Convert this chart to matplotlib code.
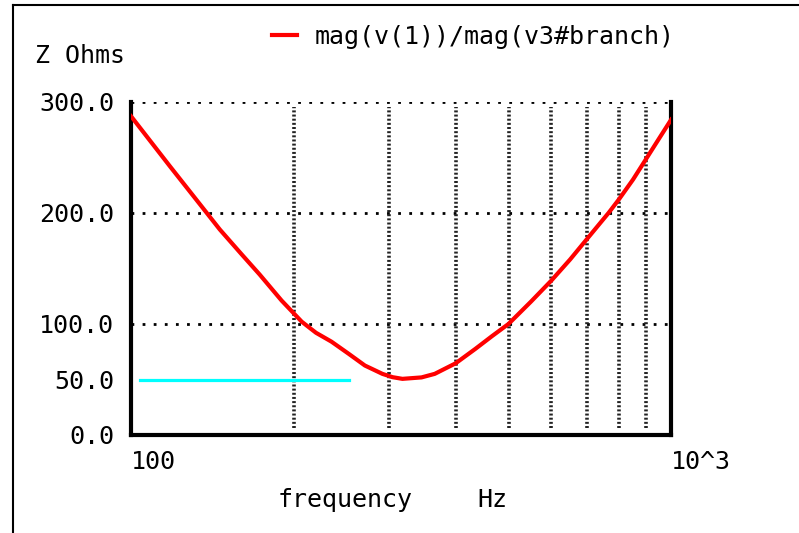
import matplotlib
matplotlib.use('Agg')
import matplotlib.pyplot as plt
from matplotlib.lines import Line2D

# impedance curve
freq = [100, 118, 135, 146, 160, 173, 190, 207, 220, 235, 253, 271, 292, 305,
        318, 345, 365, 399, 434, 466, 500, 550, 600, 650, 700, 766, 800, 850,
        900, 950, 1000]
z_ohms = [287, 242, 206, 185, 163, 144.5, 121, 102, 92, 84, 73, 62.5, 55, 52,
          50.5, 51.8, 55, 64.5, 77.5, 89, 100, 120, 139, 158, 177, 200, 212,
          230, 249, 267, 284]

# cyan reference segment
ref_freq = [104, 253]
ref_z = [49.5, 49.5]

yticks = [0, 50, 100, 200, 300]
ytick_labels = ['0.0', '50.0', '100.0', '200.0', '300.0']
xticks = [100, 1000]
xtick_labels = ['100', '10^3']
hgrid = [100, 200, 300]
vgrid = [200, 300, 400, 500, 600, 700, 800, 900]

plt.rcParams['font.family'] = ['DejaVu Sans Mono']
fs = 18

fig = plt.figure(figsize=(7.99, 5.33), dpi=100)
ax = fig.add_axes([0.164, 0.184, 0.676, 0.625])

for v in hgrid:
	ax.axhline(v, color='black', lw=2, ls=(0, (1, 3)), zorder=1)
for f in vgrid:
	ax.plot([f, f], [6, 295], color='#222222', lw=2.6, ls=(0, (0.55, 0.6)), zorder=1)

ax.plot(ref_freq, ref_z, color='#00ffff', lw=2.3, zorder=2)
ax.plot(freq, z_ohms, color='#ff0000', lw=3, zorder=3, solid_joinstyle='round')

ax.set_xscale('log')
ax.set_xlim(100, 1000)
ax.set_ylim(0, 300)
ax.minorticks_off()
ax.set_xticks(xticks)
ax.set_xticklabels(xtick_labels, fontsize=fs, ha='left')
ax.set_yticks(yticks)
ax.set_yticklabels(ytick_labels, fontsize=fs)
ax.tick_params(length=0, pad=12)
ax.tick_params(axis='x', pad=11)

for s in ['left', 'bottom', 'right']:
	ax.spines[s].set_linewidth(3)
ax.spines['top'].set_visible(False)

fig.text(0.044, 0.895, 'Z Ohms', fontsize=fs, va='center')
fig.text(0.348, 0.062, 'frequency', fontsize=fs, va='center')
fig.text(0.597, 0.062, 'Hz', fontsize=fs, va='center')

# legend
fig.add_artist(Line2D([0.341, 0.372], [0.934, 0.934], color='#ff0000', lw=3))
fig.text(0.394, 0.931, 'mag(v(1))/mag(v3#branch)', fontsize=fs, va='center')

# outer frame
fig.add_artist(Line2D([0.016, 1.0], [0.991, 0.991], color='black', lw=1.5))
fig.add_artist(Line2D([0.016, 0.016], [0.0, 0.991], color='black', lw=1.5))

fig.savefig('out.png', dpi=100)
